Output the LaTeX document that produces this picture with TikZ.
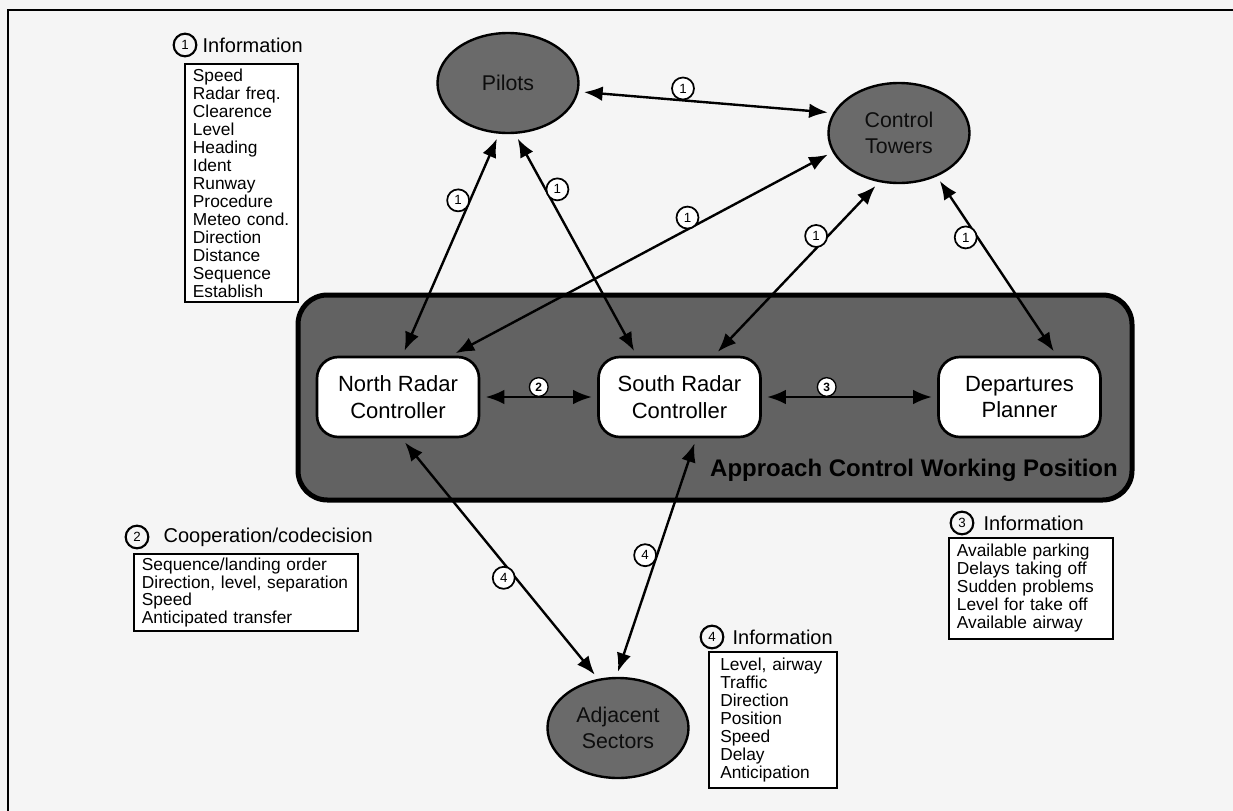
\documentclass[tikz,border=0pt]{standalone}
\usepackage{fontspec}
\setmainfont{Liberation Sans}
\usetikzlibrary{arrows.meta,positioning,shapes.geometric}
\definecolor{paper}{HTML}{F5F5F5}
\definecolor{shade}{HTML}{6A6A6A}

\begin{document}
\begin{tikzpicture}[x=0.75pt, y=-0.75pt,
  actor/.style={ellipse, draw, line width=1.8pt, fill=shade, minimum width=105.75pt, minimum height=75pt, inner sep=0pt, align=center, text=black!95, font=\fontsize{16}{20}\selectfont},
  panel/.style={rectangle, rounded corners=22pt, draw, line width=3.75pt, fill=shade!92!black, minimum width=625.5pt, minimum height=153.75pt},
  role/.style={rectangle, rounded corners=16pt, draw, line width=2pt, fill=white, minimum width=121.5pt, minimum height=60pt, align=center, font=\fontsize{16.5}{20}\selectfont},
  link/.style={line width=1.8pt, {Latex[length=14pt,width=11pt]}-{Latex[length=14pt,width=11pt]}, shorten <=4pt, shorten >=4pt},
  num/.style={circle, draw, line width=1.3pt, fill=white, minimum size=16.5pt, inner sep=0pt, font=\fontsize{10}{10}\selectfont},
  tag/.style={circle, draw, line width=1pt, fill=white, minimum size=14pt, inner sep=0pt, font=\bfseries\fontsize{9}{9}\selectfont},
  key/.style={circle, draw, line width=1.6pt, minimum size=17pt, inner sep=0pt, font=\fontsize{10}{10}\selectfont},
  head/.style={inner sep=0pt, font=\fontsize{15}{15}\selectfont},
  list/.style={rectangle, draw, line width=1.4pt, fill=white, anchor=north west, align=left, inner xsep=6pt, inner ysep=2pt, font=\fontsize{13}{13.5}\selectfont}
]
\useasboundingbox (0,0) rectangle (1233,811);
\fill[paper] (0,0) rectangle (1233,811);
\draw[line width=1.5pt] (8,811) -- (8,10) -- (1233,10);

\node[panel] (acwp) at (715,397.5) {};
\node[anchor=east, inner sep=0pt, font=\bfseries\fontsize{18}{18}\selectfont] (acwplabel) at (1118,470) {Approach Control Working Position};

\node[role] (northrc) at (398,397) {North Radar\\Controller};
\node[role] (southrc) at (679.5,397) {South Radar\\Controller};
\node[role] (deppl) at (1019.5,397) {Departures\\Planner};

\node[actor] (pilots) at (508,83) {Pilots};
\node[actor] (towers) at (899,133) {Control\\Towers};
\node[actor] (adjacent) at (618,728) {Adjacent\\Sectors};

\foreach \src/\dst/\where/\side in {pilots.-7/towers.163/.41/south, pilots.-100/northrc.84/.30/east, pilots.-82/southrc.136/.25/west, towers.196/northrc.38/.38/south, towers.-112/southrc.50/.31/east, towers.-49/deppl.48/.34/east}
  \draw[link] (\src) -- (\dst) node[num, pos=\where, anchor=\side] {1};

\draw[link] (northrc) -- (southrc) node[tag, pos=.5, anchor=south] {2};
\draw[link] (southrc) -- (deppl) node[tag, pos=.37, anchor=south] {3};
\draw[link] (northrc.-85) -- (adjacent.112) node[num, pos=.58, anchor=east] {4};
\draw[link] (southrc.-68) -- (adjacent.92) node[num, pos=.49, anchor=east] {4};

\node[key] (key1) at (185,45) {1};
\node[head, right=3.75pt of key1] (head1) {Information};
\node[list, text width=72.75pt, minimum height=178.5pt] (info1) at (184,63) {Speed\\Radar freq.\\Clearence\\Level\\Heading\\Ident\\Runway\\Procedure\\Meteo cond.\\Direction\\Distance\\Sequence\\Establish};

\node[key] (key2) at (137,537) {2};
\node[head, right=10.5pt of key2] (head2) {Cooperation/codecision};
\node[list, text width=156pt, minimum height=57.75pt, font=\fontsize{13}{13.1}\selectfont] (info2) at (133,553) {Sequence/landing order\\Direction, level, separation\\Speed\\Anticipated transfer};

\node[key] (key3) at (962,523) {3};
\node[head, right=6.75pt of key3] (head3) {Information};
\node[list, text width=111pt, minimum height=75.75pt] (info3) at (948,537) {Available parking\\Delays taking off\\Sudden problems\\Level for take off\\Available airway};

\node[key] (key4) at (712,637) {4};
\node[head, right=6pt of key4] (head4) {Information};
\node[list, inner xsep=8.5pt, text width=79pt, minimum height=102pt] (info4) at (708,651) {Level, airway\\Traffic\\Direction\\Position\\Speed\\Delay\\Anticipation};
\end{tikzpicture}
\end{document}
